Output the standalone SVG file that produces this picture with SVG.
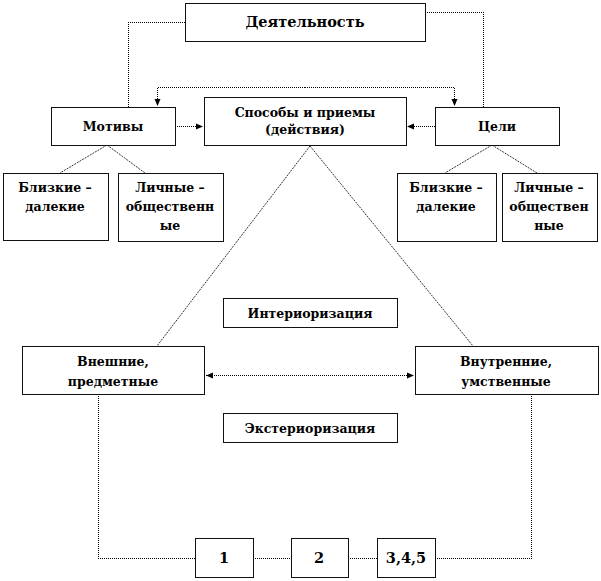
<svg xmlns="http://www.w3.org/2000/svg" width="601" height="581" viewBox="0 0 601 581">
<style>
.box{fill:#fff;stroke:#111;stroke-width:1}
.t{font-family:'DejaVu Serif','Liberation Serif',serif;font-weight:bold;font-size:12.5px;fill:#000;text-anchor:middle}
.big{font-size:14.5px}
.c{fill:none;stroke:#000;stroke-width:1;stroke-dasharray:1 1;shape-rendering:crispEdges}
.d{fill:none;stroke:#000;stroke-width:0.8;stroke-dasharray:2 1}
</style>
<defs>
<marker id="ah" markerUnits="userSpaceOnUse" markerWidth="8" markerHeight="8" refX="7" refY="4" orient="auto-start-reverse">
<path d="M0,1 L7,4 L0,7 z" fill="#000"/>
</marker>
</defs>
<rect width="601" height="581" fill="#fff"/>
<g id="connectors">
<path class="c" d="M185,22.5 H128.5 V107"/>
<path class="c" d="M425,12.5 H483.5 V107"/>
<path class="c" d="M305,87.5 H157.5 V106" marker-end="url(#ah)"/>
<path class="c" d="M305,87.5 H454.5 V106" marker-end="url(#ah)"/>
<path class="c" d="M175,126.5 H203" marker-end="url(#ah)"/>
<path class="c" d="M435,126.5 H407" marker-end="url(#ah)"/>
<path class="d" d="M107,145 L60,173"/>
<path class="d" d="M107,145 L145,173"/>
<path class="d" d="M492,145 L445,173"/>
<path class="d" d="M492,145 L537,173"/>
<path class="d" d="M310,146 L157,346"/>
<path class="d" d="M310,146 L473,346"/>
<path class="c" d="M206,375.5 H414" marker-start="url(#ah)" marker-end="url(#ah)"/>
<path class="c" d="M98.5,394 V558.5 H195"/>
<path class="c" d="M253,558.5 H291"/>
<path class="c" d="M348,558.5 H377"/>
<path class="c" d="M435,558.5 H531.5 V394"/>
</g>
<g id="n-deyat"><rect class="box" x="185.5" y="3.5" width="240" height="38"/><text class="t big" x="305" y="27">Деятельность</text></g>
<g id="n-motivy"><rect class="box" x="51.5" y="107.5" width="124" height="38"/><text class="t" x="113" y="131">Мотивы</text></g>
<g id="n-sposoby"><rect class="box" x="204.5" y="97.5" width="202" height="48"/><text class="t" x="305" y="117">Способы и приемы</text><text class="t" x="305" y="134">(действия)</text></g>
<g id="n-tseli"><rect class="box" x="435.5" y="107.5" width="124" height="38"/><text class="t" x="497" y="131">Цели</text></g>
<g id="n-bliz1"><rect class="box" x="3.5" y="173.5" width="105" height="67"/><text class="t" x="55" y="192">Близкие –</text><text class="t" x="55" y="211">далекие</text></g>
<g id="n-lich1"><rect class="box" x="118.5" y="173.5" width="105" height="68"/><text class="t" x="170" y="192">Личные –</text><text class="t" x="170" y="211">общественн</text><text class="t" x="170" y="230">ые</text></g>
<g id="n-bliz2"><rect class="box" x="397.5" y="173.5" width="99" height="68"/><text class="t" x="446" y="192">Близкие –</text><text class="t" x="446" y="211">далекие</text></g>
<g id="n-lich2"><rect class="box" x="502.5" y="173.5" width="95" height="68"/><text class="t" x="549" y="192">Личные –</text><text class="t" x="549" y="211">обществен</text><text class="t" x="549" y="230">ные</text></g>
<g id="n-inter"><rect class="box" x="223.5" y="298.5" width="174" height="29"/><text class="t" x="310" y="318">Интериоризация</text></g>
<g id="n-vneshn"><rect class="box" x="22.5" y="346.5" width="182" height="48"/><text class="t" x="113" y="366">Внешние,</text><text class="t" x="113" y="386">предметные</text></g>
<g id="n-vnutr"><rect class="box" x="415.5" y="346.5" width="183" height="48"/><text class="t" x="506" y="366">Внутренние,</text><text class="t" x="506" y="386">умственные</text></g>
<g id="n-exter"><rect class="box" x="223.5" y="413.5" width="174" height="29"/><text class="t" x="310" y="433">Экстериоризация</text></g>
<g id="n-1"><rect class="box" x="195.5" y="538.5" width="58" height="39"/><text class="t big" x="224" y="563">1</text></g>
<g id="n-2"><rect class="box" x="291.5" y="538.5" width="57" height="39"/><text class="t big" x="319" y="563">2</text></g>
<g id="n-345"><rect class="box" x="377.5" y="538.5" width="58" height="39"/><text class="t big" x="406" y="563">3,4,5</text></g>
</svg>
